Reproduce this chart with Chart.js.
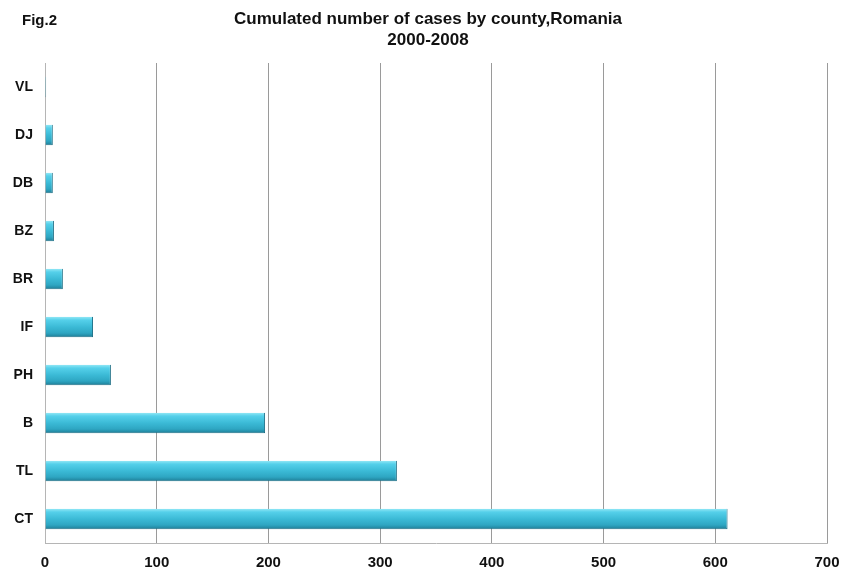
<!DOCTYPE html>
<html>
<head>
<meta charset="utf-8">
<script src="https://cdn.jsdelivr.net/npm/chart.js@4"></script>
<style>
    html, body { margin: 0; padding: 0; background: #ffffff; }
    #wrap { position: relative; width: 841px; height: 569px; }
    #fig { position: absolute; left: 22px; top: 11px; font: bold 15px 'Liberation Sans', Arial, sans-serif; color: #111; }
    #title {
        position: absolute; left: 228px; width: 400px; top: 8px; text-align: center;
        font: bold 17px/21px 'Liberation Sans', Arial, sans-serif; color: #111;
    }
</style>
</head>
<body>
<div id="wrap">
    <canvas id="countyChart" width="841" height="569"></canvas>
    <div id="fig">Fig.2</div>
    <div id="title">Cumulated number of cases by county,Romania<br>2000-2008</div>
</div>
<script>
    const counties = ['VL', 'DJ', 'DB', 'BZ', 'BR', 'IF', 'PH', 'B', 'TL', 'CT'];
    const cases = [1, 7, 7, 8, 16, 43, 59, 197, 315, 611];
    const xTicks = [0, 100, 200, 300, 400, 500, 600, 700];

    const fontFamily = "'Liberation Sans', Arial, sans-serif";

    // vertical gradient per bar, so each bar looks like a rounded tube
    const barFill = (ctx) => {
        const chart = ctx.chart;
        const yScale = chart.scales.y;
        if (!yScale || ctx.type !== 'data') {
            return '#3bbbd6';
        }
        const centre = yScale.getPixelForValue(ctx.dataIndex);
        if (!Number.isFinite(centre)) {
            return '#3bbbd6';
        }
        const half = 10;
        const g = chart.ctx.createLinearGradient(0, centre - half, 0, centre + half);
        g.addColorStop(0, '#8fe6f5');
        g.addColorStop(0.15, '#55d0ea');
        g.addColorStop(0.5, '#3bbad6');
        g.addColorStop(0.8, '#2ea6c2');
        g.addColorStop(1, '#1f7f98');
        return g;
    };

    new Chart(document.getElementById('countyChart'), {
        type: 'bar',
        data: {
            labels: counties,
            datasets: [
                {
                    data: cases,
                    backgroundColor: barFill,
                    borderColor: '#1d6f86',
                    borderWidth: { top: 0, left: 0, right: 1, bottom: 1 },
                    borderSkipped: false,
                    barPercentage: 0.86,
                    categoryPercentage: 0.5,
                },
            ],
        },
        options: {
            indexAxis: 'y',
            responsive: false,
            animation: false,
            layout: {
                padding: { left: 0, right: 14, top: 63, bottom: 0 },
            },
            plugins: {
                legend: { display: false },
                tooltip: { enabled: false },
                title: { display: false },
            },
            scales: {
                x: {
                    min: 0,
                    max: 700,
                    afterBuildTicks: (scale) => {
                        scale.ticks = xTicks.map((v) => ({ value: v }));
                    },
                    afterFit: (scale) => {
                        scale.height = 26;
                        scale.paddingRight = 0;
                    },
                    grid: {
                        color: '#9a9a9a',
                        lineWidth: 1,
                        drawTicks: false,
                    },
                    border: { color: '#b5b5b5', width: 1 },
                    ticks: {
                        color: '#111111',
                        padding: 11,
                        font: { family: fontFamily, size: 15, weight: 'bold' },
                    },
                },
                y: {
                    afterFit: (scale) => {
                        scale.width = 45;
                    },
                    grid: { display: false, drawTicks: false },
                    border: { color: '#b5b5b5', width: 1 },
                    ticks: {
                        color: '#111111',
                        padding: 12,
                        font: { family: fontFamily, size: 14, weight: 'bold' },
                    },
                },
            },
        },
    });
</script>
</body>
</html>
